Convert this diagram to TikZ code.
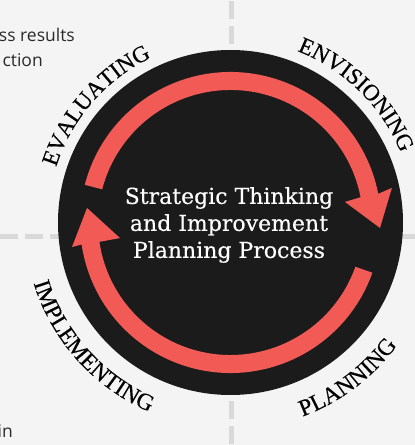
\documentclass[tikz,border=0pt]{standalone}
\usepackage{fontspec}
\setmainfont{DejaVu Serif}
\newfontfamily\lblfont[LetterSpace=3, FakeBold=0.4]{Liberation Serif}
\newfontfamily\lblwidefont[LetterSpace=6, FakeBold=0.4]{Liberation Serif}
\newfontfamily\ctrfont[FakeBold=0.3]{DejaVu Serif}
\newfontfamily\sidefont{Open Sans}
\usetikzlibrary{decorations.text}
\definecolor{bg}{HTML}{F3F4F3}
\definecolor{ink}{HTML}{1B1B1B}
\definecolor{coral}{HTML}{F15A55}
\definecolor{guide}{HTML}{D9D9D9}
\definecolor{sidetext}{HTML}{2A2A2A}
\newcommand\lblstyle{\lblfont\fontsize{23}{27}\selectfont}
\newcommand\lblwidestyle{\lblwidefont\fontsize{23.5}{27}\selectfont}
\tikzset{
  guideline/.style={draw=guide, line width=5pt, dash pattern=on 18pt off 7pt},
  sidetxt/.style={font=\sidefont\fontsize{17.5}{21}\selectfont, text=sidetext, inner sep=0pt, anchor=base east},
  arrowband/.style={fill=coral},
  arclabel/.style={color=ink, decorate, decoration={text along path, text align=center, text={|\lblstyle|#1}}},
  arclabelwide/.style={color=ink, decorate, decoration={text along path, text align=center, text={|\lblwidestyle|#1}}}
}
\begin{document}
\begin{tikzpicture}[x=1pt,y=1pt]
\fill[bg] (0,0) rectangle (415,445);
\useasboundingbox (0,0) rectangle (415,445);
\clip (0,0) rectangle (415,445);
\coordinate (C) at (230.5,222.5);
% guides
\draw[guideline, dash phase=24pt] (231.5,445) -- (231.5,0);
\draw[guideline] (0,208) -- (415,208);
% disc
\node[circle, fill=ink, minimum size=345pt, inner sep=0pt] (disc) at (C) {};
\begin{scope}[shift={(C)}]
% upper arrow
\fill[arrowband] (165.5:150.5) arc[start angle=165.5, end angle=11, radius=150.5]
  -- (12.1:165.1) -- (-2.1:149.6) -- (10.2:116.3) -- (11:132.5)
  arc[start angle=11, end angle=165.5, radius=132.5] -- cycle;
% lower arrow
\fill[arrowband] (-19.5:150.5) arc[start angle=-19.5, end angle=-171.6, radius=150.5]
  -- (-171.2:160.4) -- (-185.8:144.2) -- (-172:111.6) -- (-171.6:132.5)
  arc[start angle=-171.6, end angle=-19.5, radius=132.5] -- cycle;
% labels
\path[arclabel=EVALUATING] (169:183) arc[start angle=169, end angle=109, radius=183];
\path[arclabel=ENVISIONING] (80:184) arc[start angle=80, end angle=11, radius=184];
\path[arclabelwide=PLANNING] (-84:207) arc[start angle=-84, end angle=-22, radius=207];
\path[arclabelwide=IMPLEMENTING] (176:206) arc[start angle=176, end angle=268, radius=206];
\end{scope}
\node[text=white, font=\ctrfont\fontsize{22}{27}\selectfont, align=center] (title) at (229,220) {Strategic Thinking\\and Improvement\\Planning Process};
\node[sidetxt] (s1) at (75,403) {ss results};
\node[sidetxt] (s2) at (43,378) {ction};
\node[sidetxt] (s3) at (13,7) {in};
\end{tikzpicture}
\end{document}
